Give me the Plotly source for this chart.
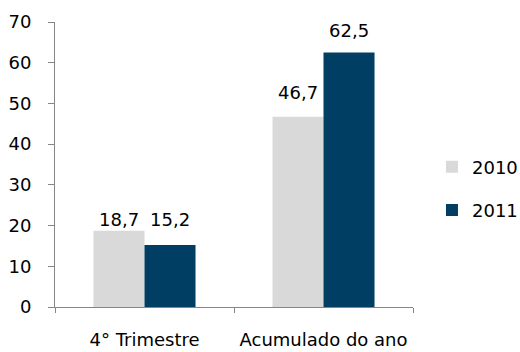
import plotly.graph_objects as go

categories = ["4° Trimestre", "Acumulado do ano"]
series_names = ["2010", "2011"]
values_2010 = [18.7, 46.7]
values_2011 = [15.2, 62.5]
y_ticks = [0, 10, 20, 30, 40, 50, 60, 70]

colors = ["#D9D9D9", "#003F63"]
FONT = "DejaVu Sans"
FS = 18
# label placement (styling): horizontal shift per series, vertical lift per label
x_shift = [-25.5, 25.5]
lift = [[0, 14], [13, 11]]

fig = go.Figure()
for name, vals, col in zip(series_names, [values_2010, values_2011], colors):
    fig.add_trace(go.Bar(
        x=categories, y=vals, name=name, marker_color=col,
        marker_line_width=0, legendgroup=name,
    ))

for si, vals in enumerate([values_2010, values_2011]):
    for ci, (cat, v) in enumerate(zip(categories, vals)):
        fig.add_annotation(
            x=cat, y=v, xref="x", yref="y", text=f"{v:.1f}".replace(".", ","),
            showarrow=False, xanchor="center", yanchor="bottom",
            xshift=x_shift[si], yshift=lift[ci][si], borderpad=0,
            font=dict(family=FONT, size=FS, color="#000000"),
        )

fig.update_layout(
    width=520, height=352,
    margin=dict(l=55, r=107, t=22, b=45, autoexpand=False),
    barmode="group", bargap=0.43, bargroupgap=0,
    plot_bgcolor="white", paper_bgcolor="white",
    font=dict(family=FONT, size=FS, color="#000000"),
    showlegend=True,
    legend=dict(x=1.053, y=0.416, xanchor="left", yanchor="middle",
                font=dict(family=FONT, size=FS), traceorder="grouped",
                tracegroupgap=17, itemwidth=30, bgcolor="rgba(0,0,0,0)"),
)
fig.update_xaxes(
    showline=True, linecolor="#868686", linewidth=1,
    ticks="outside", tickson="boundaries", ticklen=5, tickcolor="#868686",
    showgrid=False, ticklabelstandoff=16,
    tickfont=dict(family=FONT, size=FS),
)
fig.update_yaxes(
    range=[0, 70], tickvals=y_ticks,
    showline=True, linecolor="#868686", linewidth=1,
    ticks="outside", ticklen=6, tickcolor="#868686",
    showgrid=False, zeroline=False, ticklabelstandoff=13,
    tickfont=dict(family=FONT, size=FS),
)
fig.write_html("out.html")
